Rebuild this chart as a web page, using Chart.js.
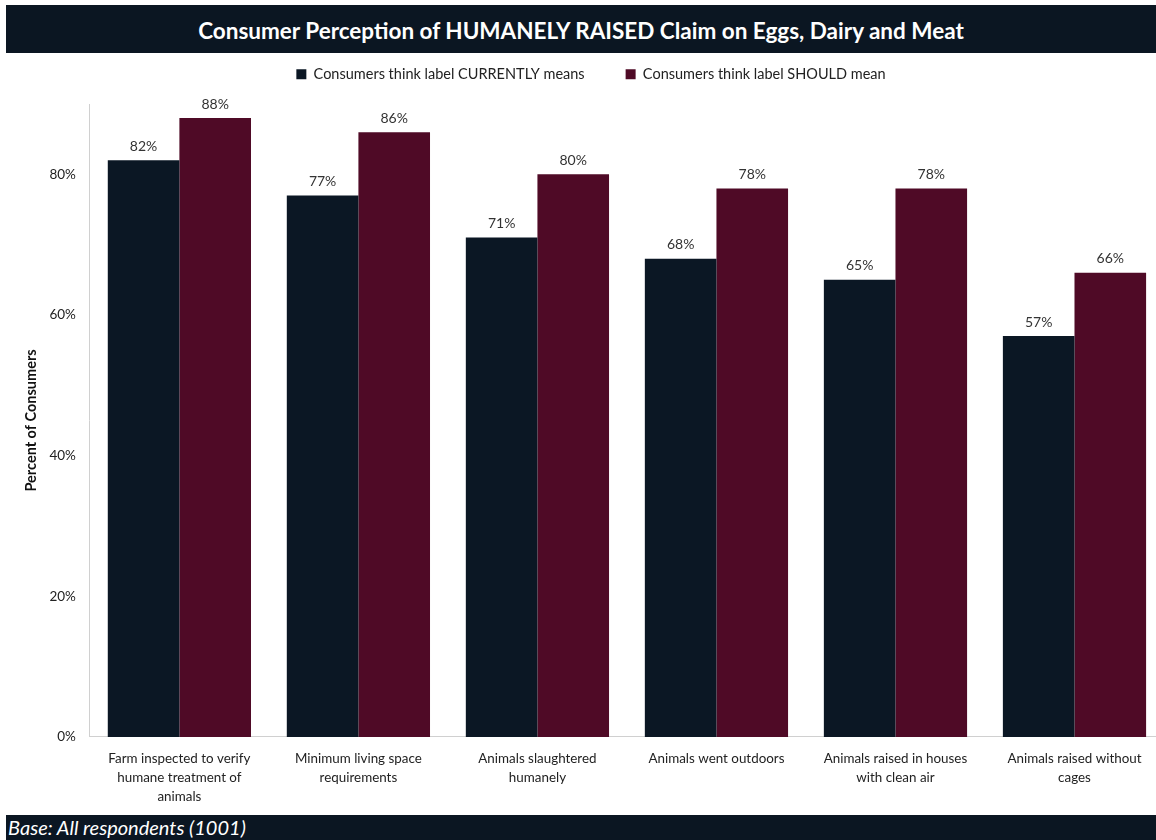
<!DOCTYPE html>
<html>
<head>
<meta charset="utf-8">
<script src="https://cdn.jsdelivr.net/npm/chart.js@4"></script>
<style>
  html, body { margin: 0; padding: 0; background: #ffffff; overflow: hidden; width: 1156px; height: 840px; }
  #wrap { position: absolute; left: 0; top: 0; width: 1170px; height: 840px; }
  #titlebar { position: absolute; left: 6px; top: 5px; width: 1150px; height: 48px; background: #0b1622; color: #ffffff;
    font-family: Lato, "Open Sans", sans-serif; font-weight: bold; font-size: 22.5px; line-height: 51px; text-align: center; z-index: 2; }
  #footer { position: absolute; left: 6px; top: 815px; width: 1150px; height: 25px; background: #0b1622; color: #ffffff;
    font-family: Lato, "Open Sans", sans-serif; font-style: italic; font-size: 20px; line-height: 25px; padding-left: 2px; box-sizing: border-box; z-index: 2; }
</style>
</head>
<body>
<div id="titlebar">Consumer Perception of HUMANELY RAISED Claim on Eggs, Dairy and Meat</div>
<div id="wrap"><canvas id="c" width="1170" height="840"></canvas></div>
<div id="footer">Base: All respondents (1001)</div>
<script>
const categories = [
  ['Farm inspected to verify', 'humane treatment of', 'animals'],
  ['Minimum living space', 'requirements'],
  ['Animals slaughtered', 'humanely'],
  'Animals went outdoors',
  ['Animals raised in houses', 'with clean air'],
  ['Animals raised without', 'cages']
];
const seriesNames = ['Consumers think label CURRENTLY means', 'Consumers think label SHOULD mean'];
const currentlyMeans = [82, 77, 71, 68, 65, 57];
const shouldMean = [88, 86, 80, 78, 78, 66];
const yTicks = [0, 20, 40, 60, 80];
const yTitle = 'Percent of Consumers';

const FONT = 'Lato, "Open Sans", sans-serif';

const valueLabels = {
  id: 'valueLabels',
  afterDatasetsDraw(chart) {
    const ctx = chart.ctx;
    ctx.save();
    ctx.font = '14px ' + FONT;
    ctx.fillStyle = '#333333';
    ctx.textAlign = 'center';
    ctx.textBaseline = 'middle';
    chart.data.datasets.forEach((ds, i) => {
      const meta = chart.getDatasetMeta(i);
      meta.data.forEach((bar, j) => {
        ctx.fillText(ds.data[j] + '%', bar.x, bar.y - 14);
      });
    });
    ctx.restore();
  }
};

const legendMargin = {
  id: 'legendMargin',
  beforeInit(chart) {
    const orig = chart.legend.fit;
    chart.legend.fit = function () { orig.call(this); this.height = 78; };
  }
};

new Chart(document.getElementById('c'), {
  type: 'bar',
  data: {
    labels: categories,
    datasets: [
      { label: seriesNames[0], data: currentlyMeans, backgroundColor: '#0b1724', categoryPercentage: 0.8, barPercentage: 1.0 },
      { label: seriesNames[1], data: shouldMean, backgroundColor: '#4f0a26', categoryPercentage: 0.8, barPercentage: 1.0 }
    ]
  },
  options: {
    responsive: false,
    animation: false,
    layout: { padding: { top: 26, left: 18, right: 6, bottom: 22 } },
    plugins: {
      legend: {
        position: 'top',
        labels: { boxWidth: 10, boxHeight: 10, color: '#222', font: { family: FONT, size: 14.5 }, padding: 41 }
      },
      tooltip: { enabled: false },
      title: { display: false }
    },
    scales: {
      x: {
        grid: { display: false, drawTicks: false },
        border: { color: '#d0d0d0' },
        ticks: { color: '#222', font: { family: FONT, size: 13.4, lineHeight: 1.42 }, padding: 12, maxRotation: 0, autoSkip: false }
      },
      y: {
        min: 0, max: 90,
        afterBuildTicks(scale) { scale.ticks = yTicks.map(v => ({ value: v })); },
        afterFit(scale) { scale.width -= 14; },
        grid: { display: false, drawTicks: false },
        border: { color: '#d0d0d0' },
        ticks: { color: '#222', font: { family: FONT, size: 13.5 }, padding: 14, callback: v => v + '%' },
        title: { display: true, text: yTitle, color: '#111', font: { family: FONT, size: 14.5, weight: 'bold' }, padding: { top: 5, bottom: 9 } }
      }
    }
  },
  plugins: [valueLabels, legendMargin]
});
</script>
</body>
</html>
